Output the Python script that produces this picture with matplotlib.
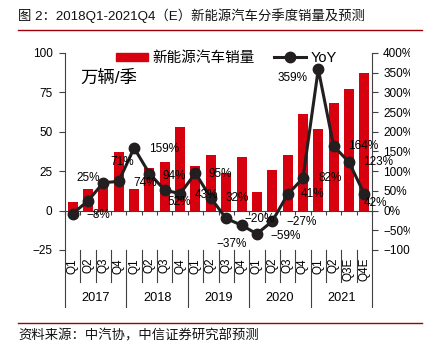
import numpy as np
import matplotlib.pyplot as plt
from matplotlib.lines import Line2D
from matplotlib.patches import Patch
from matplotlib.transforms import Bbox, TransformedBbox

plt.rcParams['font.family'] = ['Liberation Sans', 'Noto Sans CJK SC', 'DejaVu Sans']
plt.rcParams['axes.unicode_minus'] = True

# 数据
years = ['2017', '2018', '2019', '2020', '2021']
quarters = ['Q1', 'Q2', 'Q3', 'Q4', 'Q1', 'Q2', 'Q3', 'Q4',
            'Q1', 'Q2', 'Q3', 'Q4', 'Q1', 'Q2', 'Q3', 'Q4',
            'Q1', 'Q2', 'Q3E', 'Q4E']
sales = [5.7, 14, 18, 37, 14, 27, 31, 53,
         28, 35, 24, 34, 11.5, 26, 35, 61,
         52, 68, 77, 87]
yoy = [-8, 25, 71, 74, 159, 94, 52, 43,
       95, 32, -20, -37, -59, -27, 41, 82,
       359, 164, 123, 42]
# 标签偏移 (像素)
label_dx = [26, 0, 19, 26, 30, 25, 14, 26, 25, 26, 33, -10, 29, 29, 25, 27, -26, 30, 29, 11]
label_dy = [-1, 23, 21, -2, -1, -2, -12, -1, -1, 0, -1, -19, -2, -1, 0, 0, -9, 0, 0, -9]

red = '#D7000F'
dark = '#231F20'
axis_c = '#404040'

fig = plt.figure(figsize=(4.38, 3.57), dpi=100)
ax = fig.add_axes([65 / 438, 1 - 250 / 357, 307 / 438, 197 / 357])
ax2 = ax.twinx()

x = np.arange(len(sales))
ax.bar(x, sales, width=0.65, color=red, zorder=2)
ax.set_xlim(-0.5, len(sales) - 0.5)
ax.set_ylim(-25, 100)
ax.set_yticks([-25, 0, 25, 50, 75, 100])
ax.set_yticklabels(['\u221225', '0', '25', '50', '75', '100'])

ax2.plot(x, yoy, color=dark, lw=2.2, marker='o', ms=7.5, mfc=dark, mec=dark, zorder=3)
ax2.set_ylim(-100, 400)
ax2.set_yticks(np.arange(-100, 401, 50))
ax2.set_yticklabels([f'{v}%'.replace('-', '\u2212') for v in range(-100, 401, 50)])

for i, v in enumerate(yoy):
    lab = f'{v}%'.replace('-', '\u2212')
    ax2.annotate(lab, (x[i], v), xytext=(label_dx[i], label_dy[i]),
                 textcoords='offset pixels', ha='center', va='center',
                 fontsize=8.5, color='black', zorder=4)

# 坐标轴样式
for a in (ax, ax2):
    a.spines['top'].set_visible(False)
    a.tick_params(labelsize=8.5, length=4, width=0.8, color=axis_c)
ax.spines['right'].set_visible(False)
ax2.spines['left'].set_visible(False)
ax2.spines['bottom'].set_visible(False)
ax.spines['left'].set_color(axis_c)
ax2.spines['right'].set_color(axis_c)
ax.spines['bottom'].set_position(('data', 0))
ax.spines['bottom'].set_color(axis_c)
ax.set_xticks(np.arange(-0.5, len(sales), 1))
ax.tick_params(axis='x', labelbottom=False, length=3, direction='out')
ax.tick_params(axis='y', pad=5)
ax2.tick_params(axis='y', pad=4)

# 右侧刻度标签在原图中被裁切
clip = TransformedBbox(Bbox([[0, 0], [410 / 438, 1]]), fig.transFigure)
for t in ax2.get_yticklabels():
    t.set_clip_box(clip)
    t.set_clip_on(True)

# 分类标签与分隔线
trans = ax.get_xaxis_transform()
for b in range(len(sales) + 1):
    bx = b - 0.5
    y_end = -0.289 if b % 4 == 0 else -0.162
    ax.plot([bx, bx], [0, y_end], transform=trans, color=axis_c, lw=0.8, clip_on=False)
for i, q in enumerate(quarters):
    ax.text(i, -0.04, q, transform=trans, rotation=90, ha='center', va='top', fontsize=8.5)
for k, yr in enumerate(years):
    ax.text(4 * k + 1.5, -0.244, yr, transform=trans, ha='center', va='center', fontsize=9.2)

ax.text(80 / 438, 1 - 78 / 357, '万辆/季', transform=fig.transFigure,
        fontsize=12.5, va='center', ha='left')

handles = [Patch(color=red),
           Line2D([], [], color=dark, lw=2.2, marker='o', ms=7.5)]
ax2.legend(handles, ['新能源汽车销量', 'YoY'], loc='center left',
           bbox_to_anchor=(116 / 438, 1 - 58 / 357), bbox_transform=fig.transFigure,
           ncol=2, frameon=False, fontsize=10.5, borderpad=0, borderaxespad=0,
           handlelength=2.2, handleheight=0.5, handletextpad=0.3, columnspacing=1.3)

# 标题和来源
fig.text(18 / 438, 1 - 16 / 357, '图 2：2018Q1-2021Q4（E）新能源汽车分季度销量及预测',
         fontsize=9.6, va='center', ha='left', color='#111111')
fig.add_artist(Line2D([18 / 438, 422 / 438], [1 - 30 / 357] * 2, color='#A0000A', lw=1))
fig.add_artist(Line2D([18 / 438, 422 / 438], [1 - 323 / 357] * 2, color='#A0000A', lw=1))
fig.text(18 / 438, 1 - 336 / 357, '资料来源：中汽协，中信证券研究部预测',
         fontsize=9.6, va='center', ha='left', color='#111111')

fig.savefig('out.png', dpi=100)
